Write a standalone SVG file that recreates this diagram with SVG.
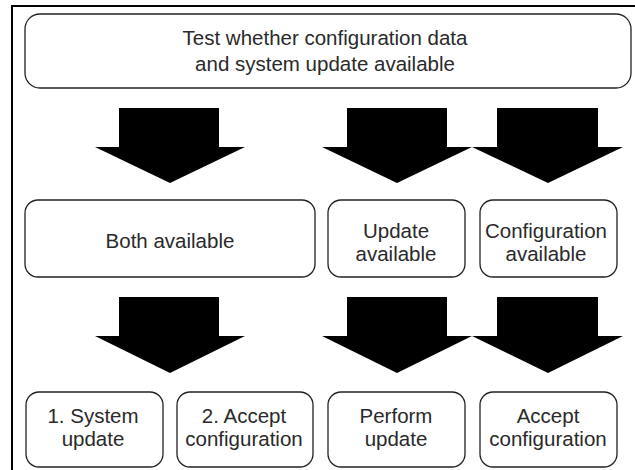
<svg xmlns="http://www.w3.org/2000/svg" width="635" height="470" viewBox="0 0 635 470">
  <style>
    .box { fill: #ffffff; stroke: #222; stroke-width: 1.3; }
    .lbl { font-family: "Liberation Sans", Arial, sans-serif; font-size: 20.5px; fill: #2a2a2a; text-anchor: middle; }
    .arrow { fill: #000; }
  </style>
  <rect x="0" y="0" width="635" height="470" fill="#ffffff"/>
  <rect id="frame" x="12" y="6" width="660" height="500" fill="none" stroke="#000" stroke-width="2"/>

  <g id="connectors">
    <path class="arrow" d="M119,108 H219 V147 H245 L170,183 L95,147 H119 Z"/>
    <path class="arrow" d="M347,108 H447 V147 H472 L397,183 L322,147 H347 Z"/>
    <path class="arrow" d="M497,108 H598 V147 H623 L548,183 L472,147 H497 Z"/>
    <path class="arrow" d="M119,297 H219 V336 H245 L170,373 L95,336 H119 Z"/>
    <path class="arrow" d="M347,297 H447 V336 H472 L397,373 L322,336 H347 Z"/>
    <path class="arrow" d="M497,297 H598 V336 H623 L548,373 L472,336 H497 Z"/>
  </g>

  <g id="test">
    <rect class="box" x="25" y="14" width="606" height="74" rx="15"/>
    <text class="lbl" x="325" y="45">Test whether configuration data</text>
    <text class="lbl" x="325" y="71">and system update available</text>
  </g>

  <g id="both">
    <rect class="box" x="25" y="200" width="290" height="77" rx="13"/>
    <text class="lbl" x="170" y="248">Both available</text>
  </g>
  <g id="update">
    <rect class="box" x="328" y="200" width="137" height="77" rx="13"/>
    <text class="lbl" x="396" y="238">Update</text>
    <text class="lbl" x="396" y="261">available</text>
  </g>
  <g id="config">
    <rect class="box" x="480" y="200" width="137" height="77" rx="13"/>
    <text class="lbl" x="546" y="238">Configuration</text>
    <text class="lbl" x="546" y="261">available</text>
  </g>

  <g id="sysupdate">
    <rect class="box" x="26" y="392" width="137" height="75" rx="13"/>
    <text class="lbl" x="93" y="423">1. System</text>
    <text class="lbl" x="93" y="446">update</text>
  </g>
  <g id="acceptcfg1">
    <rect class="box" x="177" y="392" width="136" height="75" rx="13"/>
    <text class="lbl" x="244" y="423">2. Accept</text>
    <text class="lbl" x="244" y="446">configuration</text>
  </g>
  <g id="perform">
    <rect class="box" x="328" y="392" width="137" height="75" rx="13"/>
    <text class="lbl" x="396" y="423">Perform</text>
    <text class="lbl" x="396" y="446">update</text>
  </g>
  <g id="acceptcfg2">
    <rect class="box" x="480" y="392" width="137" height="75" rx="13"/>
    <text class="lbl" x="548" y="423">Accept</text>
    <text class="lbl" x="548" y="446">configuration</text>
  </g>
</svg>
